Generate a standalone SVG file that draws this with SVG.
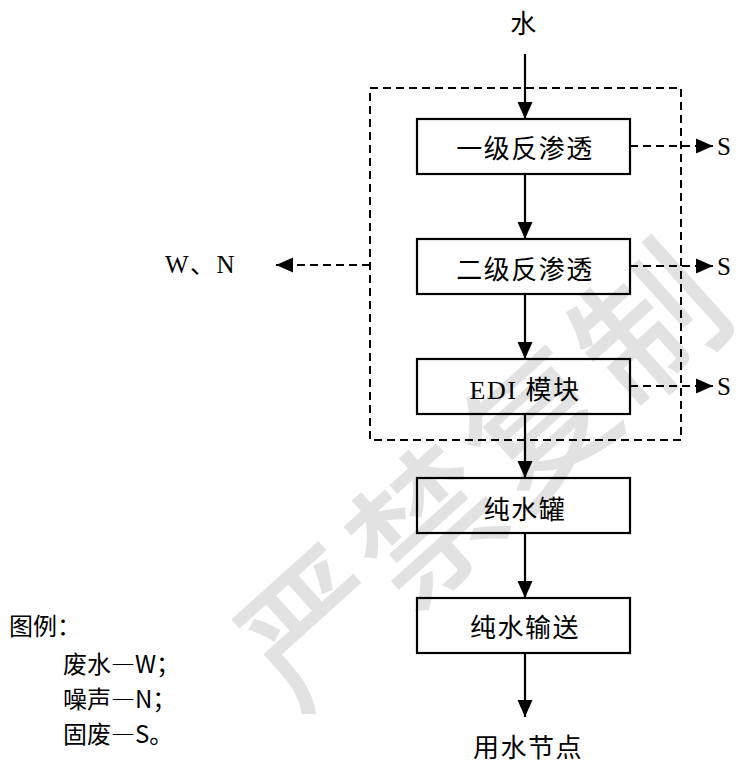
<svg xmlns="http://www.w3.org/2000/svg" width="739" height="762" viewBox="0 0 739 762">
<style>
.box{fill:none;stroke:#000;stroke-width:2.2}
.solid{stroke:#000;stroke-width:2.2;fill:none}
.dash{stroke:#000;stroke-width:2;fill:none;stroke-dasharray:8 5}
.lbl{font-family:"Liberation Serif","Noto Sans CJK SC",serif;font-size:26px;fill:#000;text-anchor:middle;letter-spacing:1.5px}
.lat{font-family:"Liberation Serif","Noto Sans CJK SC",serif;font-size:25px;fill:#000}
.leg{font-family:"Noto Sans CJK SC","Liberation Sans",sans-serif;font-size:24px;fill:#000}
.fw{font-variant-east-asian:full-width;font-feature-settings:"fwid" 1}
.wm{font-family:"Noto Sans CJK SC",sans-serif;font-size:145px;font-weight:500;fill:#e2e2e2;text-anchor:middle;letter-spacing:5px}
</style>
<defs>
<marker id="ah" markerUnits="userSpaceOnUse" markerWidth="17" markerHeight="16" viewBox="0 0 17 16" refX="17" refY="8" orient="auto">
<path d="M0,0.5 L17,8 L0,15.5 Z" fill="#000"/>
</marker>
</defs>
<rect width="739" height="762" fill="#fff"/>
<g id="watermark">
<text class="wm" x="486" y="527" transform="rotate(-42 486 476)">严禁复制</text>
</g>
<g id="group-frame">
<rect x="370" y="88" width="311" height="352" class="dash"/>
</g>
<g id="connectors">
<line x1="525" y1="54" x2="525" y2="119" class="solid" marker-end="url(#ah)"/>
<line x1="525" y1="174" x2="525" y2="239" class="solid" marker-end="url(#ah)"/>
<line x1="525" y1="294" x2="525" y2="359" class="solid" marker-end="url(#ah)"/>
<line x1="525" y1="414" x2="525" y2="478" class="solid" marker-end="url(#ah)"/>
<line x1="525" y1="533" x2="525" y2="598" class="solid" marker-end="url(#ah)"/>
<line x1="525" y1="653" x2="525" y2="717" class="solid" marker-end="url(#ah)"/>
<line x1="630" y1="146" x2="713" y2="146" class="dash" marker-end="url(#ah)"/>
<line x1="630" y1="266" x2="713" y2="266" class="dash" marker-end="url(#ah)"/>
<line x1="630" y1="386" x2="713" y2="386" class="dash" marker-end="url(#ah)"/>
<line x1="370" y1="265" x2="276" y2="265" class="dash" marker-end="url(#ah)"/>
</g>
<g id="node-water"><text class="lbl" x="524" y="33">水</text></g>
<g id="node-ro1"><rect class="box" x="417" y="119" width="213" height="55"/><text class="lbl" x="525" y="158">一级反渗透</text></g>
<g id="node-ro2"><rect class="box" x="417" y="239" width="213" height="55"/><text class="lbl" x="525" y="279">二级反渗透</text></g>
<g id="node-edi"><rect class="box" x="417" y="359" width="213" height="55"/><text class="lbl" x="525" y="399">EDI 模块</text></g>
<g id="node-tank"><rect class="box" x="417" y="478" width="213" height="55"/><text class="lbl" x="525" y="519">纯水罐</text></g>
<g id="node-pump"><rect class="box" x="417" y="598" width="213" height="55"/><text class="lbl" x="525" y="637">纯水输送</text></g>
<g id="node-use"><text class="lbl" x="528" y="757">用水节点</text></g>
<g id="node-s1"><text class="lat" x="717" y="155">S</text></g>
<g id="node-s2"><text class="lat" x="717" y="275">S</text></g>
<g id="node-s3"><text class="lat" x="717" y="395">S</text></g>
<g id="node-wn"><text class="lat" x="165" y="273" font-size="26" letter-spacing="1.5">W、N</text></g>
<g id="legend">
<text class="leg" x="9" y="635">图例：</text>
<text class="leg" x="63" y="673">废水<tspan class="fw">—</tspan>W；</text>
<text class="leg" x="63" y="708">噪声<tspan class="fw">—</tspan>N；</text>
<text class="leg" x="63" y="743">固废<tspan class="fw">—</tspan>S。</text>
</g>
</svg>
